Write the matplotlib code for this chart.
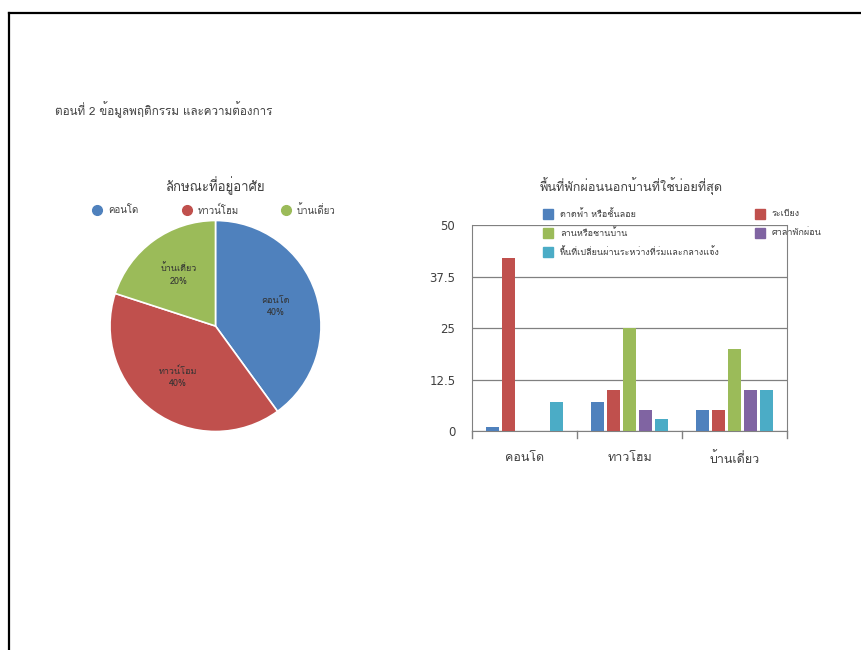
import matplotlib
matplotlib.use("Agg")
import matplotlib.pyplot as plt
from matplotlib.patches import Rectangle
import numpy as np

# ---------------- data ----------------
pie_labels = ["คอนโด", "ทาวน์โฮม", "บ้านเดี่ยว"]
pie_values = [40, 40, 20]
pie_title = "ลักษณะที่อยู่อาศัย"

bar_categories = ["คอนโด", "ทาวโฮม", "บ้านเดี่ยว"]
bar_series = ["ดาดฟ้า หรือชั้นลอย", "ระเบียง", "ลานหรือชานบ้าน", "ศาลาพักผ่อน",
              "พื้นที่เปลี่ยนผ่านระหว่างที่ร่มและกลางแจ้ง"]
rooftop = [1, 7, 5]
balcony = [42, 10, 5]
yard = [0, 25, 20]
pavilion = [0, 5, 10]
transition = [7, 3, 10]
bar_title = "พื้นที่พักผ่อนนอกบ้านที่ใช้บ่อยที่สุด"
y_ticks = [0, 12.5, 25, 37.5, 50]
y_ticklabels = ["0", "12.5", "25", "37.5", "50"]
header = "ตอนที่ 2 ข้อมูลพฤติกรรม และความต้องการ"

plt.rcParams["font.family"] = ["Loma", "Noto Sans Thai Looped", "DejaVu Sans"]

colors = ["#4F81BD", "#C0504D", "#9BBB59", "#8064A2", "#4BACC6"]
txt = "#404040"

W, H = 861, 650
fig = plt.figure(figsize=(W / 100, H / 100), dpi=100)

def fx(x): return x / W
def fy(y): return 1 - y / H

# page border
fig.add_artist(plt.Line2D([fx(9), fx(9)], [fy(13), 0], color="black", lw=1.6))
fig.add_artist(plt.Line2D([fx(9), 1], [fy(13), fy(13)], color="black", lw=1.6))

fig.text(fx(55), fy(110), header, fontsize=8.4, color=txt, va="center", ha="left")

# ---------------- pie ----------------
cx, cy, r = 215.5, 326, 105.5
axp = fig.add_axes([fx(cx - r), fy(cy + r), (2 * r) / W, (2 * r) / H])
wedges, _ = axp.pie(pie_values, colors=colors[:3], startangle=90, counterclock=False,
                    wedgeprops=dict(edgecolor="white", linewidth=1.2), radius=1)
axp.set_xlim(-1, 1); axp.set_ylim(-1, 1)
axp.set_aspect("equal")
cum = np.cumsum([0] + pie_values)
tot = sum(pie_values)
for i, (lab, v) in enumerate(zip(pie_labels, pie_values)):
    mid = 90 - 360 * (cum[i] + v / 2) / tot
    rr = 0.6
    x, y = rr * np.cos(np.radians(mid)), rr * np.sin(np.radians(mid))
    axp.text(x, y, f"{lab}\n{v}%", ha="center", va="center", fontsize=6.5,
             color="#333333", linespacing=1.5)

fig.text(fx(215), fy(186), pie_title, ha="center", va="center", fontsize=9.5, color=txt)
leg_x = [97, 187, 286]
for i, lab in enumerate(pie_labels):
    fig.add_artist(plt.Line2D([fx(leg_x[i])], [fy(210)], marker="o", markersize=7,
                              color=colors[i], linestyle="none"))
    fig.text(fx(leg_x[i] + 11), fy(210), lab, fontsize=7, color=txt, va="center", ha="left")

# ---------------- bars ----------------
axb = fig.add_axes([fx(472), fy(431), (787 - 472) / W, (431 - 225) / H])
series = [rooftop, balcony, yard, pavilion, transition]
xpos = np.arange(len(bar_categories))
step = 0.152
bw = 0.129
for i, s in enumerate(series):
    axb.bar(xpos + (i - 2) * step, s, width=bw, color=colors[i], zorder=3)
axb.set_xlim(-0.5, 2.5)
axb.set_ylim(0, 50)
axb.set_yticks(y_ticks)
axb.set_yticklabels(y_ticklabels, fontsize=8.5, color=txt, family="DejaVu Sans")
axb.tick_params(axis="y", length=0, pad=12)
axb.set_xticks(xpos)
axb.set_xticklabels(bar_categories, fontsize=9, color=txt)
axb.tick_params(axis="x", length=0, pad=15)
for v in [-0.5, 0.5, 1.5, 2.5]:
    axb.plot([v, v], [0, -1.6], color="#808080", lw=1, clip_on=False)
axb.grid(axis="y", color="#808080", lw=0.9, zorder=0)
axb.spines["top"].set_visible(False)
for sp in ["right", "left", "bottom"]:
    axb.spines[sp].set_color("#808080")

fig.text(fx(631), fy(186), bar_title, ha="center", va="center", fontsize=9.1, color=txt)
leg_pos = [(548, 214), (760, 214), (548, 233), (760, 233), (548, 252)]
for i, lab in enumerate(bar_series):
    x, y = leg_pos[i]
    fig.add_artist(Rectangle((fx(x - 5), fy(y + 5)), 10 / W, 10 / H, color=colors[i],
                             transform=fig.transFigure))
    fig.text(fx(x + 12), fy(y), lab, fontsize=6.5, color=txt, va="center", ha="left")

fig.savefig("out.png", dpi=100)
